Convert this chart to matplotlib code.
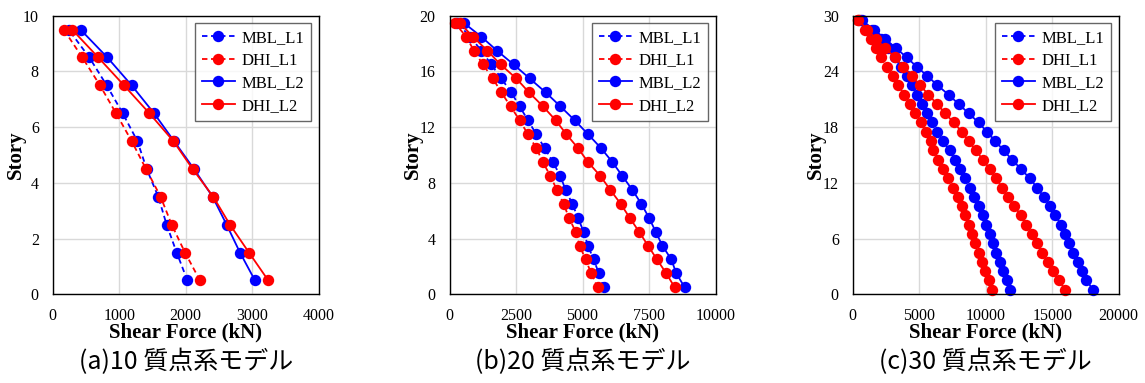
import matplotlib
matplotlib.use("Agg")
import matplotlib.pyplot as plt
import numpy as np

# ---------------- data ----------------
stories_10 = [0.5, 1.5, 2.5, 3.5, 4.5, 5.5, 6.5, 7.5, 8.5, 9.5]
mbl_l1_10 = [2025, 1864, 1713, 1588, 1413, 1273, 1052, 812, 551, 240]
dhi_l1_10 = [2214, 1989, 1789, 1623, 1403, 1187, 952, 711, 446, 167]
mbl_l2_10 = [3041, 2816, 2615, 2405, 2124, 1824, 1523, 1187, 822, 419]
dhi_l2_10 = [3241, 2951, 2665, 2415, 2104, 1814, 1453, 1072, 686, 293]

stories_20 = [i + 0.5 for i in range(20)]
mbl_l1_20 = [5793, 5618, 5417, 5204, 5041, 4828, 4615, 4364, 4163, 3887,
             3574, 3260, 2947, 2633, 2320, 1944, 1567, 1191, 777, 276]
dhi_l1_20 = [5570, 5330, 5116, 4891, 4740, 4489, 4289, 4038, 3787, 3511,
             3260, 2947, 2633, 2295, 1944, 1630, 1254, 915, 627, 188]
mbl_l2_20 = [8841, 8527, 8339, 8000, 7750, 7499, 7210, 6872, 6496, 6120,
             5693, 5204, 4703, 4163, 3612, 3010, 2408, 1781, 1191, 527]
dhi_l2_20 = [8465, 8151, 7800, 7461, 7123, 6772, 6433, 6044, 5668, 5204,
             4828, 4389, 3988, 3511, 2985, 2508, 1919, 1417, 878, 376]

stories_30 = [i + 0.5 for i in range(30)]
mbl_l1_30 = [11847, 11596, 11295, 11044, 10793, 10542, 10291, 10040, 9789, 9463,
             9136, 8785, 8459, 8082, 7706, 7279, 6777, 6375, 5949, 5572,
             5196, 4819, 4443, 4066, 3614, 3188, 2686, 2108, 1431, 550]
dhi_l1_30 = [10467, 10216, 9965, 9714, 9463, 9212, 8961, 8710, 8459, 8208,
             7881, 7530, 7128, 6777, 6451, 6075, 5899, 5522, 5120, 4694,
             4317, 3865, 3439, 3012, 2560, 2108, 1757, 1355, 929, 427]
mbl_l2_30 = [18072, 17570, 17244, 16917, 16566, 16240, 15989, 15662, 15236, 14859,
             14357, 13855, 13303, 12650, 11973, 11345, 10718, 10090, 9463, 8710,
             7957, 7204, 6375, 5622, 4819, 4066, 3263, 2435, 1606, 678]
dhi_l2_30 = [15989, 15487, 15060, 14658, 14232, 13855, 13479, 13052, 12650, 12148,
             11646, 11220, 10793, 10291, 9789, 9250, 8710, 8208, 7580, 6953,
             6325, 5698, 5070, 4443, 3815, 3188, 2435, 1757, 1104, 427]

series_labels = ["MBL_L1", "DHI_L1", "MBL_L2", "DHI_L2"]
captions = ["(a)10 質点系モデル", "(b)20 質点系モデル", "(c)30 質点系モデル"]
x_label = "Shear Force (kN)"
y_label = "Story"

panels = [
    (stories_10, [mbl_l1_10, dhi_l1_10, mbl_l2_10, dhi_l2_10], 4000, 1000, 10, 2),
    (stories_20, [mbl_l1_20, dhi_l1_20, mbl_l2_20, dhi_l2_20], 10000, 2500, 20, 4),
    (stories_30, [mbl_l1_30, dhi_l1_30, mbl_l2_30, dhi_l2_30], 20000, 5000, 30, 6),
]

# ---------------- styles ----------------
colors = ["#0000FF", "#FF0000", "#0000FF", "#FF0000"]
styles = [(0, (3, 2)), (0, (3, 2)), "-", "-"]
serif = ["Liberation Serif", "DejaVu Serif"]

W, H = 1145, 383
fig = plt.figure(figsize=(W / 100, H / 100), dpi=100)

lefts = [52.7, 449.5, 852.7]
ax_w = 266.0
ax_top = 15.7
ax_bot = 294.3

for i, (st, vals, xmax, xstep, ymax, ystep) in enumerate(panels):
    ax = fig.add_axes([lefts[i] / W, 1 - ax_bot / H, ax_w / W, (ax_bot - ax_top) / H])
    for v, c, ls, lab in zip(vals, colors, styles, series_labels):
        ax.plot(v, st, color=c, linestyle=ls, linewidth=1.3, marker="o",
                markersize=8.2, markeredgewidth=0, label=lab, clip_on=False)
    ax.set_xlim(0, xmax)
    ax.set_ylim(0, ymax)
    ax.set_xticks(np.arange(0, xmax + 1, xstep))
    ax.set_yticks(np.arange(0, ymax + 1, ystep))
    ax.grid(True, color="#d9d9d9", linewidth=1.0)
    ax.set_axisbelow(True)
    ax.tick_params(length=0, pad=10, labelsize=11.5)
    for lbl in ax.get_xticklabels() + ax.get_yticklabels():
        lbl.set_fontfamily(serif)
    for sp in ax.spines.values():
        sp.set_color("black")
        sp.set_linewidth(1.0)
    ax.set_xlabel(x_label, fontfamily=serif, fontweight="bold", fontsize=15, labelpad=-1)
    ax.set_ylabel(y_label, fontfamily=serif, fontweight="bold", fontsize=15)
    ax.yaxis.set_label_coords(-27.0 / ax_w, 0.5)
    leg = ax.legend(loc="upper right", prop={"family": serif, "size": 12},
                    frameon=True, fancybox=False, edgecolor="#404040",
                    borderaxespad=0.45, handlelength=2.0, labelspacing=0.4,
                    borderpad=0.4, handletextpad=0.4)
    leg.get_frame().set_linewidth(1.0)
    fig.text((lefts[i] + ax_w / 2) / W, 1 - 362 / H, captions[i],
             ha="center", va="center", fontsize=18,
             family=["Noto Sans CJK JP", "DejaVu Sans"])

fig.savefig("out.png", dpi=100)
